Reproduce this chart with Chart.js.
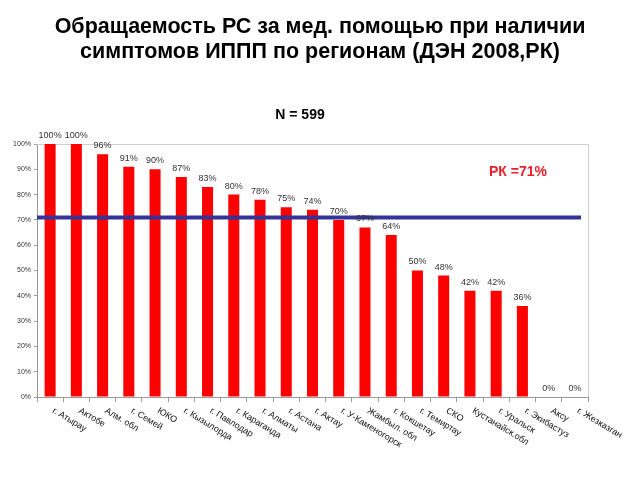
<!DOCTYPE html>
<html>
<head>
<meta charset="utf-8">
<script src="https://cdn.jsdelivr.net/npm/chart.js@4/dist/chart.umd.min.js"></script>
<style>
  html, body { margin: 0; padding: 0; background: #fff; }
  #wrap { width: 640px; height: 480px; }
</style>
</head>
<body>
<div id="wrap"><canvas id="canvas" width="640" height="480"></canvas></div>
<script>
// ---- данные ----
var regions = ["г. Атырау", "Актобе", "Алм. обл", "г. Семей", "ЮКО", "г. Кызылорда",
  "г. Павлодар", "г. Караганда", "г. Алматы", "г. Астана", "г. Актау",
  "г. У-Каменогорск", "Жамбыл. обл", "г. Кокшетау", "г. Темиртау", "СКО",
  "Кустанайск.обл", "г. Уральск", "г. Экибастуз", "Аксу", "г. Жезказган"];
var percents = [100, 100, 96, 91, 90, 87, 83, 80, 78, 75, 74, 70, 67, 64, 50, 48, 42, 42, 36, 0, 0];
var rkAvg = 71;
var yTicks = [0, 10, 20, 30, 40, 50, 60, 70, 80, 90, 100];
var titleLines = ["Обращаемость РС за мед. помощью при наличии", "симптомов ИППП по регионам (ДЭН 2008,РК)"];
var nText = "N = 599";
var rkText = "РК =71%";

var FONT = "'Liberation Sans', Arial, sans-serif";

// рамка, линия среднего, подписи
var extras = {
  id: "extras",
  beforeDatasetsDraw: function(chart) {
    var ctx = chart.ctx, a = chart.chartArea;
    ctx.save();
    ctx.strokeStyle = "#cfcfcf";
    ctx.lineWidth = 1;
    ctx.beginPath();
    ctx.moveTo(a.left, a.top + 0.5);
    ctx.lineTo(a.right + 0.5, a.top + 0.5);
    ctx.lineTo(a.right + 0.5, a.bottom);
    ctx.stroke();
    ctx.restore();
  },
  afterDatasetsDraw: function(chart) {
    var ctx = chart.ctx, a = chart.chartArea;
    var x = chart.scales.x, y = chart.scales.y;
    ctx.save();
    // линия РК
    var yy = y.getPixelForValue(rkAvg);
    ctx.strokeStyle = "#333399";
    ctx.lineWidth = 4;
    ctx.beginPath();
    ctx.moveTo(a.left, yy);
    ctx.lineTo(a.right - 7, yy);
    ctx.stroke();

    // подписи значений
    var meta = chart.getDatasetMeta(0);
    ctx.fillStyle = "#333";
    ctx.font = "9px " + FONT;
    ctx.textAlign = "center";
    ctx.textBaseline = "bottom";
    meta.data.forEach(function(bar, i) {
      ctx.fillText(percents[i] + "%", bar.x, bar.y - 4);
    });

    // подписи категорий
    ctx.fillStyle = "#111";
    ctx.font = "9px " + FONT;
    ctx.textAlign = "left";
    ctx.textBaseline = "middle";
    regions.forEach(function(r, i) {
      var px = x.getPixelForValue(i);
      ctx.save();
      ctx.translate(px + 3, a.bottom + 13);
      ctx.rotate(31 * Math.PI / 180);
      ctx.fillText(r, 0, 0);
      ctx.restore();
    });

    // N и РК
    ctx.fillStyle = "#000";
    ctx.font = "bold 14px " + FONT;
    ctx.textAlign = "center";
    ctx.fillText(nText, 300, 115);
    ctx.fillStyle = "#e8202a";
    ctx.fillText(rkText, 518, 172);
    ctx.restore();
  }
};

new Chart(document.getElementById("canvas").getContext("2d"), {
  type: "bar",
  data: {
    labels: regions,
    datasets: [{
      data: percents,
      backgroundColor: "#ff0000",
      borderWidth: 0,
      categoryPercentage: 1,
      barPercentage: 0.42
    }]
  },
  options: {
    responsive: false,
    animation: false,
    layout: { padding: 0 },
    plugins: {
      legend: { display: false },
      tooltip: { enabled: false },
      title: {
        display: true,
        text: titleLines,
        color: "#000",
        font: { family: FONT, size: 21.5, weight: "bold", lineHeight: 1.14 },
        padding: { top: 15, bottom: 80 }
      }
    },
    scales: {
      x: {
        grid: { offset: true, drawOnChartArea: false, color: "#999", tickLength: 5 },
        border: { color: "#999" },
        ticks: { display: false },
        afterFit: function(s) { s.height = 83; }
      },
      y: {
        min: 0, max: 100,
        afterBuildTicks: function(s) { s.ticks = yTicks.map(function(v) { return { value: v }; }); },
        grid: { drawOnChartArea: false, color: "#999", tickLength: 3 },
        border: { color: "#999" },
        ticks: {
          color: "#333",
          padding: 3,
          font: { family: FONT, size: 7 },
          callback: function(v) { return v + "%"; }
        },
        afterFit: function(s) { s.width = 37; }
      },
      // пустое место справа
      yr: {
        position: "right",
        min: 0, max: 100,
        grid: { display: false },
        border: { display: false },
        ticks: { display: false },
        afterFit: function(s) { s.width = 52; }
      }
    }
  },
  plugins: [extras]
});
</script>
</body>
</html>
